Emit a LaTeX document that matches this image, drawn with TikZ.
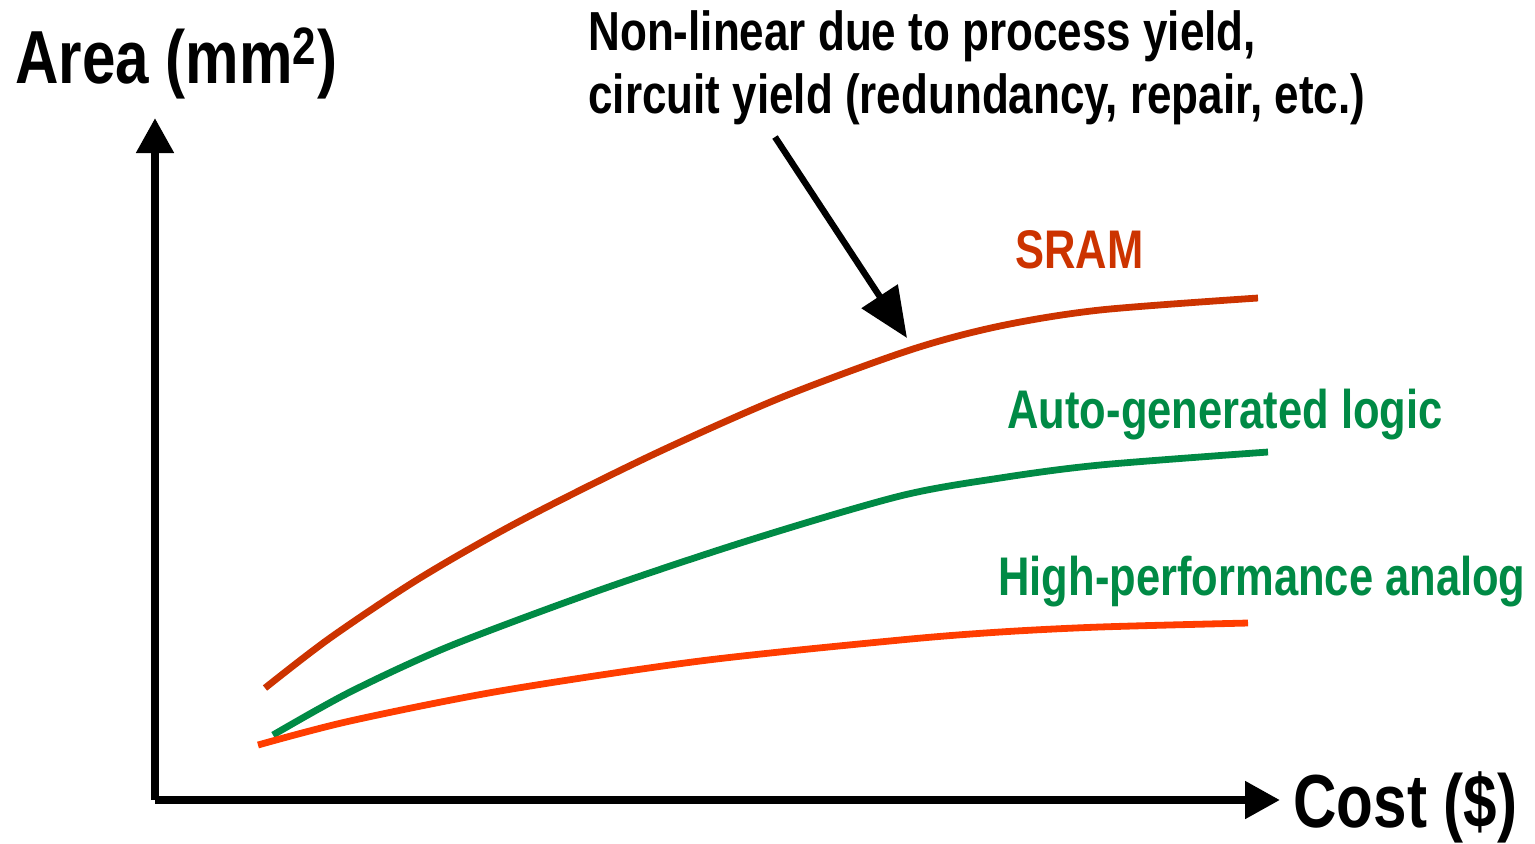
\documentclass[tikz,border=0pt]{standalone}
\usepackage{fontspec}
\setmainfont[FakeStretch=0.8]{Liberation Sans}
\usetikzlibrary{arrows.meta}
\definecolor{sramred}{RGB}{204,51,0}
\definecolor{logicgreen}{RGB}{0,138,69}
\definecolor{analogorange}{RGB}{255,61,0}
\tikzset{
  axis/.style={line width=4pt, -{Triangle[length=17.5pt,width=18pt]}},
  curve/.style={line width=3.4pt},
  lbl/.style={anchor=base west, inner sep=0pt, font=\bfseries\fontsize{27.2}{31}\selectfont},
  axlbl/.style={lbl, font=\bfseries\fontsize{37.6}{42}\selectfont},
}
\begin{document}
\begin{tikzpicture}[x=0.5pt, y=-0.5pt]
    \useasboundingbox (0,0) rectangle (1535,843);

    \coordinate (origin) at (155,800);
    \coordinate (ytop) at (155,118);
    \coordinate (xend) at (1280,800);

    \draw[axis] (origin) -- (ytop);
    \draw[axis] (origin) -- (xend);

    \node[axlbl] (area) at (15,83) {Area (mm\textsuperscript{2})};
    \node[axlbl] (cost) at (1293,827) {Cost (\$)};

    \node[lbl, font=\bfseries\fontsize{27.5}{31.5}\selectfont] (note1) at (588,50) {Non-linear due to process yield,};
    \node[lbl, font=\bfseries\fontsize{27.5}{31.5}\selectfont] (note2) at (588,113) {circuit yield (redundancy, repair, etc.)};

    \coordinate (callout) at (775,137);
    \coordinate (tip) at (907,338);
    \draw[line width=3.2pt, -{Triangle[length=25pt,width=21pt]}] (callout) -- (tip);

    \draw[curve, sramred] plot[smooth, tension=0.5] coordinates {(265,688) (330,638) (420,578) (520,521) (650,456) (780,398) (910,350) (1000,326) (1100,310) (1258,298)};
    \draw[curve, logicgreen] plot[smooth, tension=0.5] coordinates {(273,735) (350,692) (450,646) (600,590) (750,540) (900,496) (1000,478) (1100,465) (1268,452)};
    \draw[curve, analogorange] plot[smooth, tension=0.5] coordinates {(258,745) (350,721) (500,691) (700,661) (900,640) (1000,632) (1100,627) (1248,623)};

    \node[lbl, text=sramred] (sram) at (1015,268) {SRAM};
    \node[lbl, text=logicgreen] (logic) at (1007,428) {Auto-generated logic};
    \node[lbl, text=logicgreen] (analog) at (998,595) {High-performance analog};
  \end{tikzpicture}
\end{document}
